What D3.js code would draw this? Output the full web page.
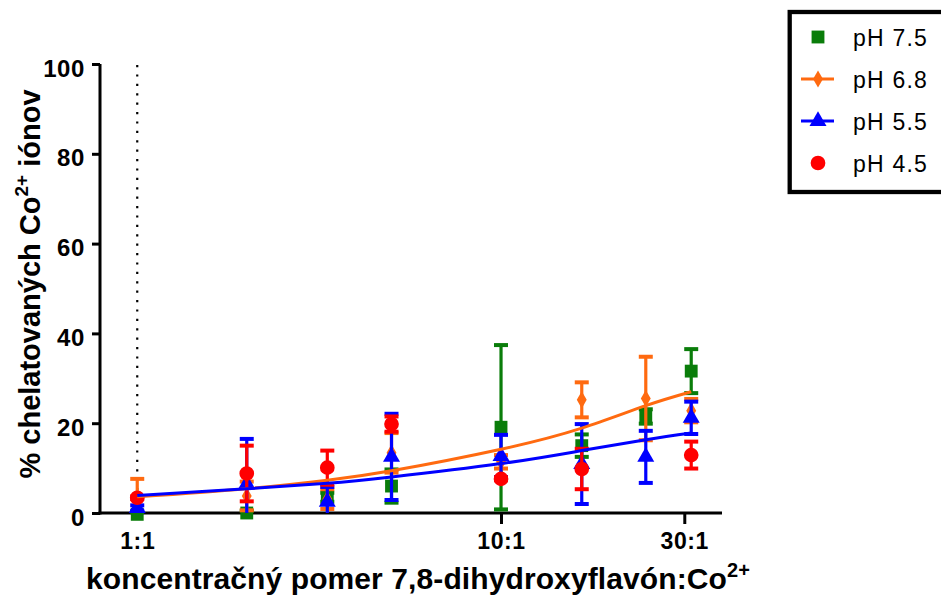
<!DOCTYPE html>
<html>
<head>
<meta charset="utf-8">
<script src="https://cdn.jsdelivr.net/npm/d3@7"></script>
<style>
    body { margin: 0; background: #fff; }
    svg { display: block; font-family: "Liberation Sans", Arial, sans-serif; }
</style>
</head>
<body>
<svg id="chart" width="941" height="597"></svg>
<script>
// molar ratio flavone : Co2+
var ratios = [1, 2, 3.33, 5, 10, 16.67, 25, 33.33];

// % chelated, mean and SD for every pH
var ph75 = [-0.3, 0, 3.5, 6.0, 19.1, 15.0, 21.5, 31.6];
var ph75Err = [0.5, 0.5, 1.0, 3.7, 18.3, 2.5, 1.6, 4.9];
var ph68 = [3.6, 3.8, 3.1, 13.4, 11.4, 25.2, 25.5, 22.8];
var ph68Err = [4.0, 3.2, 2.2, 4.4, 1.5, 3.9, 9.3, 2.6];
var ph55 = [1.1, 6.5, 2.5, 12.5, 12.7, 10.9, 12.5, 21.2];
var ph55Err = [0.6, 10.0, 3.3, 9.6, 4.7, 8.9, 5.8, 3.6];
var ph45 = [3.4, 8.8, 10.1, 19.8, 7.6, 9.8, null, 12.9];
var ph45Err = [0.3, 6.2, 3.8, 1.7, 0.3, 4.5, null, 3.0];

// fitted curves for pH 6.8 and pH 5.5
var fit68 = [3.6, 5.4, 7.3, 9.4, 14.2, 18.9, 23.9, 27.0];
var fit55 = [3.9, 5.4, 6.6, 8.0, 11.0, 13.9, 16.3, 17.8];

var xTicks = [1, 10, 31.9];
var xTickLabels = ["1:1", "10:1", "30:1"];
var yTicks = [0, 20, 40, 60, 80, 100];
var legendLabels = ["pH 7.5", "pH 6.8", "pH 5.5", "pH 4.5"];

var svg = d3.select("#chart");

var x = d3.scaleLog().domain([0.79, 40.5]).range([100, 722]);
var y = d3.scaleLinear().domain([0, 100]).range([513, 64]);

var series = [
    { name: legendLabels[0], values: ph75, err: ph75Err, color: "#0A7D0A", shape: "square", fit: null },
    { name: legendLabels[1], values: ph68, err: ph68Err, color: "#FF6A10", shape: "diamond", fit: fit68 },
    { name: legendLabels[2], values: ph55, err: ph55Err, color: "#0000FF", shape: "triangle", fit: fit55 },
    { name: legendLabels[3], values: ph45, err: ph45Err, color: "#FF0000", shape: "circle", fit: null }
];

function symbolFor(shape) {
    if (shape == "square") return d3.symbol().type(d3.symbolSquare).size(165);
    if (shape == "diamond") return d3.symbol().type(d3.symbolDiamond).size(85);
    if (shape == "triangle") return d3.symbol().type(d3.symbolTriangle).size(125);
    return d3.symbol().type(d3.symbolCircle).size(170);
}

//dotted line at 1:1
svg.append("line")
    .attr("x1", x(1)).attr("x2", x(1))
    .attr("y1", 65).attr("y2", 521)
    .attr("stroke", "#000")
    .attr("stroke-width", 2.2)
    .attr("stroke-dasharray", "2.2,7.2");

//axes
var yAxis = svg.append("g")
    .attr("transform", "translate(100,0)")
    .call(d3.axisLeft(y).tickValues(yTicks).tickSize(8).tickPadding(7));
yAxis.select(".domain").attr("stroke-width", 3).attr("d", "M0," + y(100) + "V" + (y(0) + 1.5));
yAxis.selectAll(".tick line").attr("stroke-width", 3);
yAxis.selectAll(".tick text")
    .style("font-size", "24px").style("font-weight", "bold")
    .style("font-family", "'Liberation Sans', Arial, sans-serif")
    .attr("letter-spacing", 0.6).attr("dy", "0.5em");

var xAxis = svg.append("g")
    .attr("transform", "translate(0,513)")
    .call(d3.axisBottom(x).tickValues(xTicks).tickSize(11).tickPadding(9)
        .tickFormat(function (d, i) { return xTickLabels[i]; }));
xAxis.select(".domain").attr("stroke-width", 3).attr("d", "M98.5,0H722");
xAxis.selectAll(".tick line").attr("stroke-width", 3)
    .attr("opacity", function (d, i) { return i == 0 ? 0 : 1; });
xAxis.selectAll(".tick text")
    .style("font-size", "23px").style("font-weight", "bold")
    .style("font-family", "'Liberation Sans', Arial, sans-serif")
    .attr("letter-spacing", 0.6);

//error bars and markers
series.forEach(function (s) {
    var g = svg.append("g");
    var pts = ratios.map(function (r, i) {
        return { x: r, v: s.values[i], e: s.err[i] };
    }).filter(function (p) { return p.v != null; });

    pts.forEach(function (p) {
        var cx = x(p.x);
        var top = y(p.v + p.e);
        var bot = y(Math.max(0, p.v - p.e));
        g.append("line").attr("x1", cx).attr("x2", cx).attr("y1", top).attr("y2", bot)
            .attr("stroke", s.color).attr("stroke-width", 3.2);
        g.append("line").attr("x1", cx - 7).attr("x2", cx + 7).attr("y1", top).attr("y2", top)
            .attr("stroke", s.color).attr("stroke-width", 4);
        if (p.v - p.e > 0) {
            g.append("line").attr("x1", cx - 7).attr("x2", cx + 7).attr("y1", bot).attr("y2", bot)
                .attr("stroke", s.color).attr("stroke-width", 4);
        }
    });

    g.selectAll("path.mark")
        .data(pts)
        .enter().append("path")
        .attr("class", "mark")
        .attr("d", symbolFor(s.shape))
        .attr("transform", function (p) { return "translate(" + x(p.x) + "," + y(p.v) + ")"; })
        .attr("fill", s.color);
});

//fit curves
var line = d3.line()
    .x(function (d) { return x(d[0]); })
    .y(function (d) { return y(d[1]); })
    .curve(d3.curveNatural);

series.forEach(function (s) {
    if (!s.fit) return;
    svg.append("path")
        .datum(ratios.map(function (r, i) { return [r, s.fit[i]]; }))
        .attr("d", line)
        .attr("fill", "none")
        .attr("stroke", s.color)
        .attr("stroke-width", 3);
});

//axis titles
var yTitle = svg.append("text")
    .attr("transform", "translate(40,284) rotate(-90)")
    .attr("text-anchor", "middle")
    .attr("font-size", 29).attr("font-weight", "bold");
yTitle.append("tspan").text("% chelatovaných Co");
yTitle.append("tspan").attr("font-size", 19).attr("dy", -12).text("2+");
yTitle.append("tspan").attr("dy", 12).text(" iónov");

var xTitle = svg.append("text")
    .attr("x", 86).attr("y", 589)
    .attr("font-size", 30).attr("font-weight", "bold")
    .attr("letter-spacing", 0.1);
xTitle.append("tspan").text("koncentračný pomer 7,8-dihydroxyflavón:Co");
xTitle.append("tspan").attr("font-size", 20).attr("dy", -12).text("2+");

//legend
var legend = svg.append("g");
legend.append("rect")
    .attr("x", 789.7).attr("y", 12)
    .attr("width", 200).attr("height", 180)
    .attr("fill", "#fff").attr("stroke", "#000").attr("stroke-width", 4.3);

series.forEach(function (s, i) {
    var ly = 37 + i * 42;
    if (s.fit) {
        legend.append("line").attr("x1", 801).attr("x2", 834).attr("y1", ly).attr("y2", ly)
            .attr("stroke", s.color).attr("stroke-width", 3);
    }
    legend.append("path")
        .attr("d", symbolFor(s.shape))
        .attr("transform", "translate(818," + ly + ")")
        .attr("fill", s.color);
    legend.append("text")
        .attr("x", 853).attr("y", ly + 9)
        .attr("font-size", 23).attr("letter-spacing", 1.2)
        .text(s.name);
});
</script>
</body>
</html>
